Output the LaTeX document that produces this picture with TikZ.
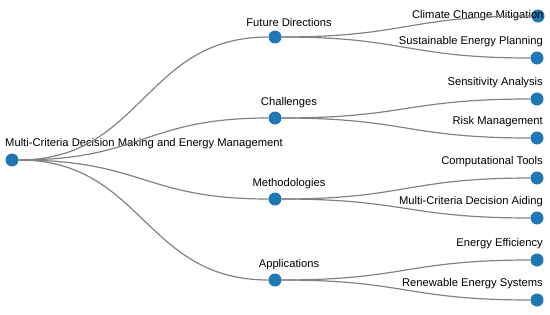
\documentclass[tikz,border=0pt]{standalone}
\usepackage{fontspec}
\setmainfont{Liberation Sans}
\usepackage{tikz}
\usetikzlibrary{positioning,arrows.meta}
\usepackage{xcolor}
\definecolor{dotblue}{RGB}{31,119,180}
\definecolor{linkgray}{RGB}{130,130,130}

\begin{document}
\begin{tikzpicture}[
x=1pt,
y=-1pt,
every label/.style={
font=\fontsize{11.2}{13}\selectfont,
inner sep=0pt
},
dot/.style={
circle,
fill=dotblue,
minimum size=13pt,
inner sep=0pt
},
mid/.style={
dot,
label={[xshift=14pt,label distance=3pt]above:#1}
},
leaf/.style={
dot,
label={[anchor=south east,xshift=6pt,label distance=4pt]above:#1}
},
link/.style={
draw=linkgray,
line width=1.2pt,
to path={.. controls +(131,0) and +(-131,0) .. (\tikztotarget)}
}
]

\useasboundingbox (0,0) rectangle (550,314);

\node[dot,label={[anchor=south west,xshift=-7pt,label distance=4pt]above:Multi-Criteria Decision Making and Energy Management}] (root) at (12,160) {};

\node[mid=Future Directions] (fut) at (275,37) {};
\node[mid=Challenges] (cha) at (275,118) {};
\node[mid=Methodologies] (met) at (275,199) {};
\node[mid=Applications] (app) at (275,280) {};

\node[dot,label={[anchor=east,xshift=-1pt]0:Climate Change Mitigation}] (cli) at (538,16) {};
\node[leaf=Sustainable Energy Planning] (sus) at (537,58) {};
\node[leaf=Sensitivity Analysis] (sen) at (537,99) {};
\node[leaf=Risk Management] (ris) at (537,138) {};
\node[leaf=Computational Tools] (com) at (537,178) {};
\node[leaf=Multi-Criteria Decision Aiding] (mcd) at (537,218) {};
\node[leaf=Energy Efficiency] (eff) at (537,260) {};
\node[leaf=Renewable Energy Systems] (ren) at (537,300) {};

\path
(root) edge[link] (fut)
(root) edge[link] (cha)
(root) edge[link] (met)
(root) edge[link] (app)
(fut) edge[link] (cli)
(fut) edge[link] (sus)
(cha) edge[link] (sen)
(cha) edge[link] (ris)
(met) edge[link] (com)
(met) edge[link] (mcd)
(app) edge[link] (eff)
(app) edge[link] (ren);

\end{tikzpicture}
\end{document}
